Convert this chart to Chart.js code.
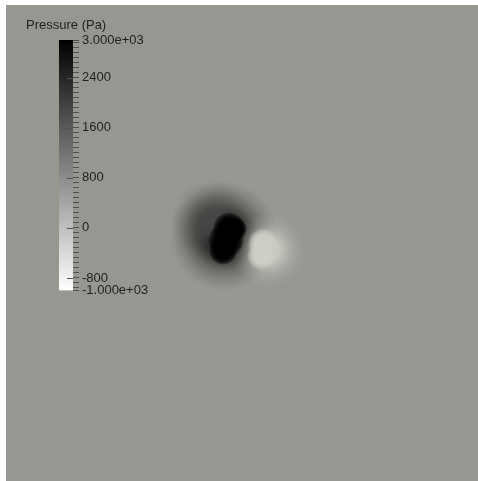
<!DOCTYPE html>
<html>
<head>
<meta charset="utf-8">
<script src="https://cdn.jsdelivr.net/npm/chart.js@4.4.1/dist/chart.umd.min.js"></script>
<style>
  html, body { margin: 0; padding: 0; background: #ffffff; width: 478px; height: 481px; overflow: hidden; }
  #field { position: absolute; left: 6px; top: 5px; }
  #bar { position: absolute; left: 0; top: 0; }
</style>
</head>
<body>
<canvas id="field" width="472" height="476"></canvas>
<canvas id="bar" width="153" height="310"></canvas>
<script>
// ---- Pressure field (domain spans -1..1 in both directions) ----
const ambientPressure = 470;

// Soft pressure halos around the vortex pair
const haloX = [-0.0763, -0.1271, 0.1102];
const haloY = [0.0294, 0.0882, -0.0294];
const haloR = [0.233, 0.178, 0.161];
const haloP = [3000, 1800, -450];

// Vortex cores: high-pressure lobe (left) and low-pressure lobe (right)
const coreX = [-0.0551, -0.0678, -0.0805, -0.0297, 0.0890, 0.0805];
const coreY = [0.0630, 0.0126, -0.0336, 0.0588, 0.0000, -0.0546];
const coreR = [0.0678, 0.0763, 0.0593, 0.0508, 0.0636, 0.0593];
const coreP = [3400, 3400, 3400, 3400, -450, -450];

// ---- Colour bar ----
const barMin = -1000;
const barMax = 3000;
const barMinorStep = 80;
const barMajor = [2400, 1600, 800, 0, -800];
const barLabelValues = [3000, 2400, 1600, 800, 0, -800, -1000];
const barLabelTexts = ['3.000e+03', '2400', '1600', '800', '0', '-800', '-1.000e+03'];

Chart.defaults.font.family = "'Liberation Sans', Arial, sans-serif";
Chart.defaults.animation = false;

// Grayscale map (black = high, white = low) with the lit surface tint
const tint = [0.936, 0.930, 0.899];
function level(p) {
  const t = Math.min(1, Math.max(0, (barMax - p) / (barMax - barMin)));
  return t * 255;
}
function fieldColour(p, a) {
  const g = level(p);
  return `rgba(${(g * tint[0]).toFixed(1)},${(g * tint[1]).toFixed(1)},${(g * tint[2]).toFixed(1)},${a})`;
}
function barColour(p) {
  const g = Math.round(level(p));
  return `rgb(${g},${g},${g})`;
}

// Radial fall-off of each mark (fraction of radius -> opacity)
const haloProfile = [[0, 1], [0.3, 0.88], [0.44, 0.6], [0.62, 0.3], [0.8, 0.12], [0.92, 0.04], [1, 0]];
const coreProfile = [[0, 1], [0.6, 1], [0.85, 0.6], [1, 0]];
const lowCoreProfile = [[0, 1], [0.5, 1], [0.8, 0.5], [1, 0]];

function toPoints(xs, ys, rs, ps) {
  return xs.map((x, i) => ({ x, y: ys[i], rad: rs[i], p: ps[i] }));
}

function radiusPx(ctx) {
  const raw = ctx.raw;
  if (!raw) return 0;
  const xs = ctx.chart.scales.x;
  const r = Math.abs(xs.getPixelForValue(raw.rad) - xs.getPixelForValue(0));
  return isFinite(r) ? r : 0;
}

function radialFill(profileFor) {
  return (ctx) => {
    const raw = ctx.raw;
    if (!raw) return 'rgba(0,0,0,0)';
    const chart = ctx.chart;
    const cx = chart.scales.x.getPixelForValue(raw.x);
    const cy = chart.scales.y.getPixelForValue(raw.y);
    const r = radiusPx(ctx);
    if (!isFinite(cx) || !isFinite(cy) || !(r > 0)) return fieldColour(raw.p, 0);
    const g = chart.ctx.createRadialGradient(cx, cy, 0, cx, cy, r);
    profileFor(raw).forEach(([s, a]) => g.addColorStop(s, fieldColour(raw.p, a)));
    return g;
  };
}

const fieldBackground = {
  id: 'fieldBackground',
  beforeDraw(chart) {
    const { ctx, chartArea: a } = chart;
    ctx.save();
    ctx.fillStyle = fieldColour(ambientPressure, 1);
    ctx.fillRect(a.left, a.top, a.right - a.left, a.bottom - a.top);
    ctx.restore();
  }
};

const fieldChart = new Chart(document.getElementById('field'), {
  type: 'bubble',
  data: {
    datasets: [
      {
        label: 'halo',
        order: 2,
        data: toPoints(haloX, haloY, haloR, haloP),
        radius: radiusPx,
        backgroundColor: radialFill(() => haloProfile),
        borderWidth: 0
      },
      {
        label: 'core',
        order: 1,
        data: toPoints(coreX, coreY, coreR, coreP),
        radius: radiusPx,
        backgroundColor: radialFill(raw => (raw.p > ambientPressure ? coreProfile : lowCoreProfile)),
        borderWidth: 0
      }
    ]
  },
  options: {
    responsive: false,
    events: [],
    layout: { padding: 0, autoPadding: false },
    scales: {
      x: { type: 'linear', min: -1, max: 1, display: false },
      y: { type: 'linear', min: -1, max: 1, display: false }
    },
    plugins: { legend: { display: false }, tooltip: { enabled: false } }
  },
  plugins: [fieldBackground]
});
// Radii are given in domain units; re-parse once the scales have been fitted
fieldChart.data.datasets[0].data = toPoints(haloX, haloY, haloR, haloP);
fieldChart.data.datasets[1].data = toPoints(coreX, coreY, coreR, coreP);
fieldChart.update('none');

// ---- Colour bar chart ----
const tickColour = '#505050';
const majorTicks = {
  id: 'majorTicks',
  afterDatasetsDraw(chart) {
    const ys = chart.scales.y;
    const { ctx, chartArea: a } = chart;
    ctx.save();
    ctx.strokeStyle = tickColour;
    ctx.lineWidth = 1;
    barMajor.forEach(v => {
      const y = Math.round(ys.getPixelForValue(v)) + 0.5;
      ctx.beginPath();
      ctx.moveTo(a.right - 6, y);
      ctx.lineTo(a.right, y);
      ctx.stroke();
    });
    ctx.restore();
  }
};

// Minor ticks on multiples of the step, plus both ends of the range
const barTicks = [barMin];
for (let v = Math.ceil(barMin / barMinorStep) * barMinorStep; v < barMax; v += barMinorStep) {
  if (v > barMin) barTicks.push(v);
}
barTicks.push(barMax);

const barChart = new Chart(document.getElementById('bar'), {
  type: 'bar',
  data: {
    labels: [''],
    datasets: [{
      data: [[barMin, barMax]],
      barPercentage: 1,
      categoryPercentage: 1,
      borderWidth: 0,
      backgroundColor: (ctx) => {
        const chart = ctx.chart;
        const ys = chart.scales.y;
        const y0 = ys ? ys.getPixelForValue(barMax) : NaN;
        const y1 = ys ? ys.getPixelForValue(barMin) : NaN;
        if (!isFinite(y0) || !isFinite(y1)) return '#888';
        const g = chart.ctx.createLinearGradient(0, y0, 0, y1);
        g.addColorStop(0, barColour(barMax));
        g.addColorStop(1, barColour(barMin));
        return g;
      }
    }]
  },
  options: {
    responsive: false,
    events: [],
    layout: { padding: { left: 26, top: 12, right: 0, bottom: 19.5 } },
    scales: {
      x: { display: false },
      y: {
        type: 'linear',
        position: 'right',
        min: barMin,
        max: barMax,
        afterBuildTicks: (s) => { s.ticks = barTicks.map(v => ({ value: v })); },
        afterFit: (s) => { s.width = 80; },
        border: { display: false },
        grid: { drawOnChartArea: false, drawTicks: true, tickLength: 6, color: tickColour, lineWidth: 1 },
        ticks: {
          autoSkip: false,
          padding: 3,
          color: '#1e1e1e',
          font: { size: 13 },
          callback: (v) => {
            const i = barLabelValues.indexOf(v);
            return i >= 0 ? barLabelTexts[i] : '';
          }
        }
      },
      yL: {
        type: 'linear',
        position: 'left',
        display: true,
        border: { display: false },
        grid: { display: false },
        ticks: { display: false },
        afterFit: (s) => { s.width = 33; }
      }
    },
    plugins: {
      legend: { display: false },
      tooltip: { enabled: false },
      title: {
        display: true,
        text: 'Pressure (Pa)',
        align: 'start',
        color: '#1e1e1e',
        font: { size: 13, weight: 'normal' },
        padding: { top: 6, bottom: 6.5 }
      }
    }
  },
  plugins: [majorTicks]
});
barChart.update('none');
</script>
</body>
</html>
